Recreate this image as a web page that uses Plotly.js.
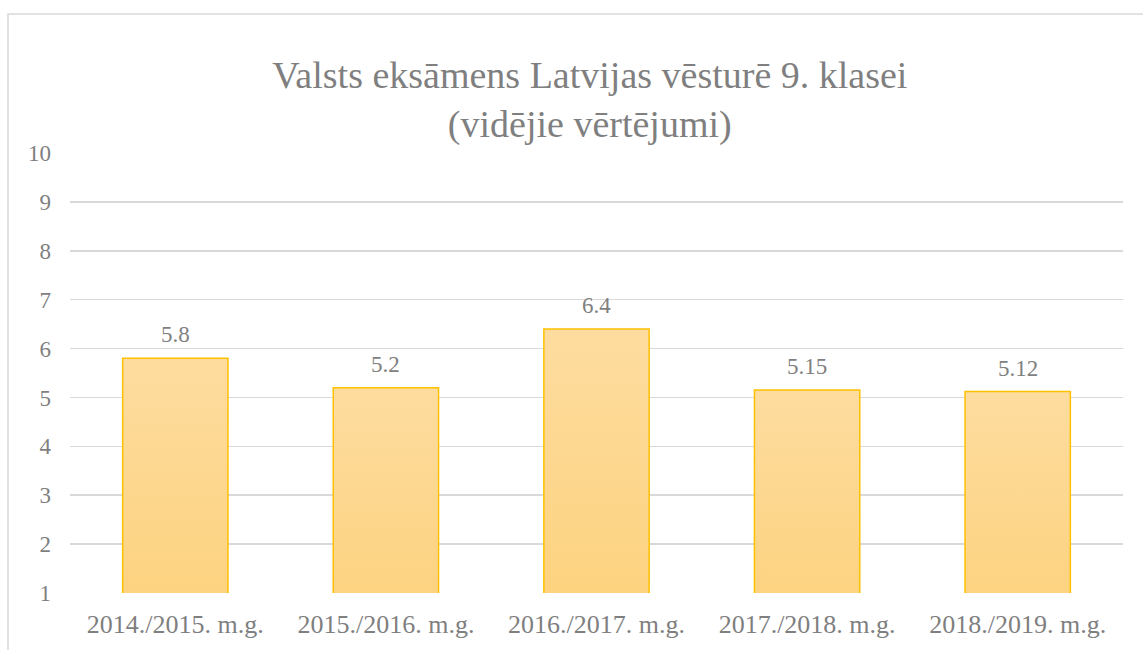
<!DOCTYPE html>
<html><head><meta charset="utf-8">
<script src="https://cdn.plot.ly/plotly-3.0.1.min.js"></script>
<style>body{margin:0;background:#fff}#chart{width:1143px;height:650px}</style>
</head><body><div id="chart"></div>
<script>
var categories = ["2014./2015. m.g.", "2015./2016. m.g.", "2016./2017. m.g.", "2017./2018. m.g.", "2018./2019. m.g."];
var values = [5.8, 5.2, 6.4, 5.15, 5.12];
var valueLabels = ["5.8", "5.2", "6.4", "5.15", "5.12"];
var yTicks = [1, 2, 3, 4, 5, 6, 7, 8, 9, 10];

var font = "Liberation Serif";
var trace = {
  type: "bar", x: categories, y: values,
  marker: {color: "#fdd68b", line: {color: "#ffc000", width: 1.5}},
  hoverinfo: "none"
};
var labels = categories.map(function(c, i){
  return {x: c, y: values[i], xref: "x", yref: "y", text: valueLabels[i], showarrow: false,
    yanchor: "bottom", yshift: 9, font: {family: font, size: 23, color: "#7f7f7f"}};
});
var layout = {
  width: 1143, height: 650,
  margin: {l: 70, r: 20, t: 153, b: 57},
  paper_bgcolor: "#fff", plot_bgcolor: "#fff",
  bargap: 0.5, showlegend: false,
  title: {text: "Valsts eksāmens Latvijas vēsturē 9. klasei<br>(vidējie vērtējumi)",
    font: {family: font, size: 38, color: "#7f7f7f"}, x: 0.516, xanchor: "center", y: 0.865, yanchor: "middle"},
  xaxis: {tickfont: {family: font, size: 26, color: "#7f7f7f"}, showline: false, ticks: "", ticklabelstandoff: 13},
  yaxis: {range: [1, 10], tickvals: yTicks, tickfont: {family: font, size: 23, color: "#7f7f7f"},
    gridcolor: "#d9d9d9", gridwidth: 1.5, zeroline: false, showline: false, ticks: "", ticklabelstandoff: 18},
  annotations: labels,
  shapes: [{type: "rect", xref: "paper", yref: "paper", x0: -62/1053, x1: 1.2, y0: -0.5, y1: 579/440,
    line: {color: "#d9d9d9", width: 1.5}, fillcolor: "rgba(0,0,0,0)", layer: "below"}]
};
Plotly.newPlot("chart", [trace], layout, {displayModeBar: false, staticPlot: true}).then(function(gd){
  var svg = gd.querySelector("svg.main-svg");
  var ns = "http://www.w3.org/2000/svg";
  var defs = svg.querySelector("defs") || svg.insertBefore(document.createElementNS(ns, "defs"), svg.firstChild);
  var g = document.createElementNS(ns, "linearGradient");
  g.setAttribute("id", "barGrad"); g.setAttribute("x1", "0"); g.setAttribute("y1", "0"); g.setAttribute("x2", "0"); g.setAttribute("y2", "1");
  [["0", "#fddc9f"], ["1", "#fdd17a"]].forEach(function(s){
    var st = document.createElementNS(ns, "stop"); st.setAttribute("offset", s[0]); st.setAttribute("stop-color", s[1]); g.appendChild(st);
  });
  defs.appendChild(g);
  gd.querySelectorAll(".bars .point path").forEach(function(p){ p.style.fill = "url(#barGrad)"; });
});
</script></body></html>
